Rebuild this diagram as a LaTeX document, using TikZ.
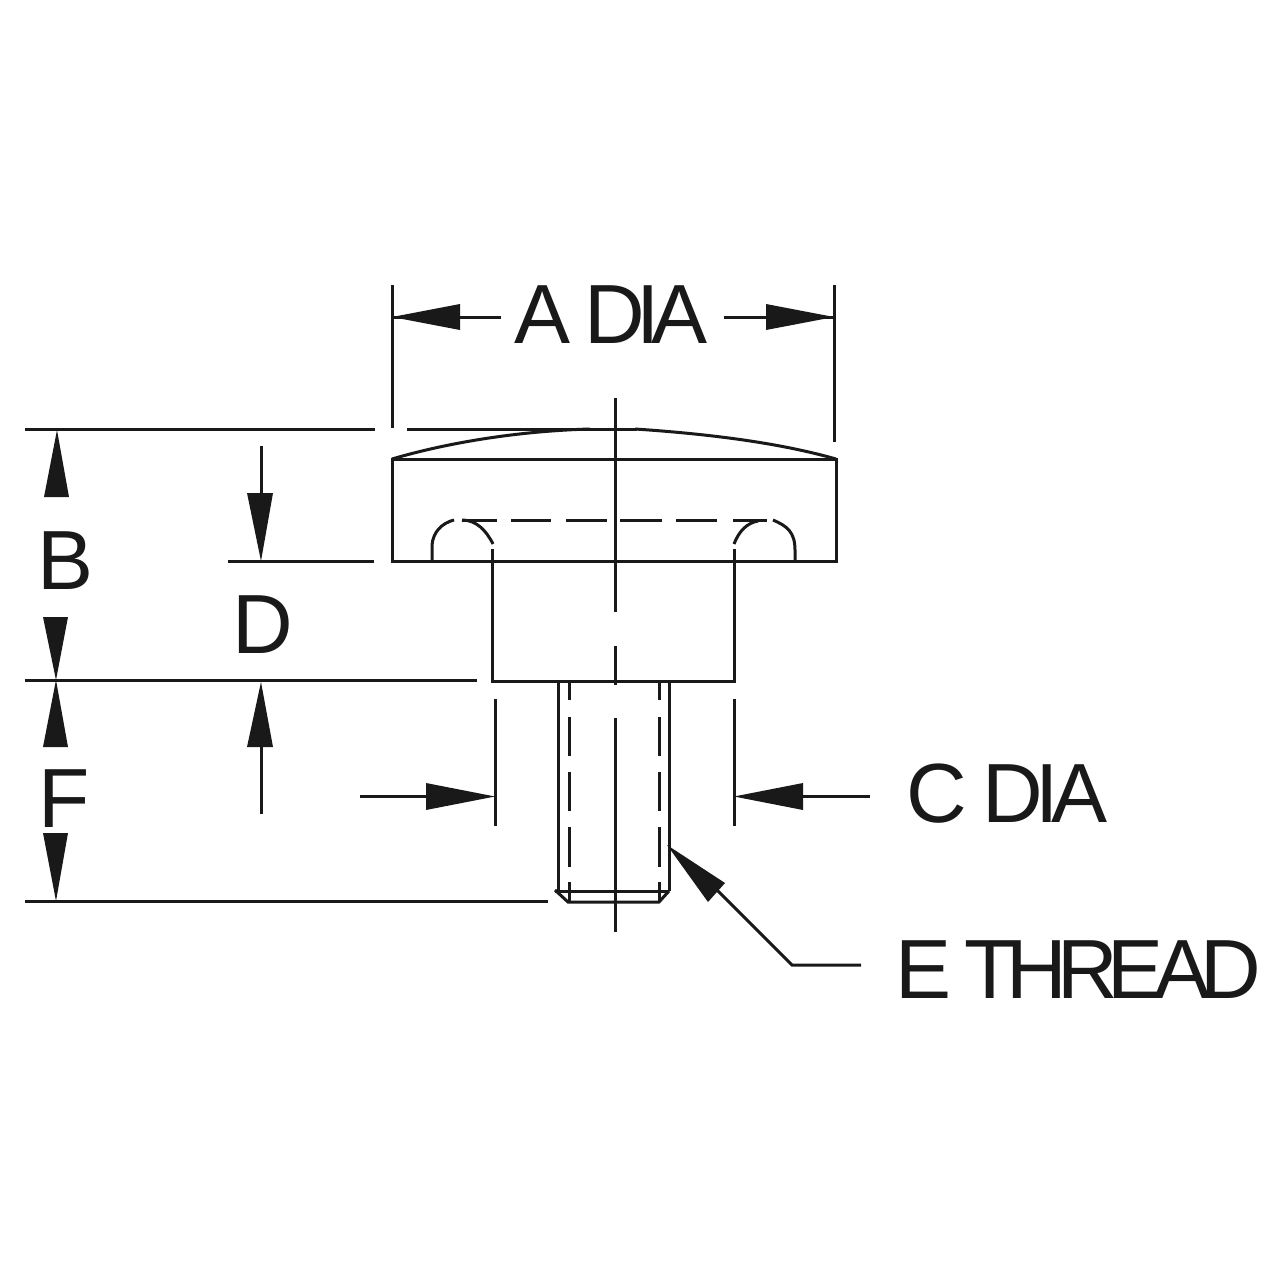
\documentclass[tikz,border=0pt]{standalone}
\usepackage{fontspec}
\setmainfont{Liberation Sans}
\newfontfamily\fa{Liberation Sans}[LetterSpace=-10.3]
\newfontfamily\fc{Liberation Sans}[LetterSpace=-9]
\newfontfamily\fe{Liberation Sans}[LetterSpace=-11.7]
\begin{document}
\begin{tikzpicture}[x=1pt,y=-1pt,
  ln/.style={line width=3pt,black!90!white},
  dim/.style={line width=3pt,black!90!white},
  tip/.style={fill=black!90!white,draw=none},
  olab/.style={inner sep=0pt,anchor=base west,font=\fontsize{84}{84}\selectfont,text=black!90!white}]
\useasboundingbox (0,0) rectangle (1280,1280);
\fill[white] (0,0) rectangle (1280,1280);
% knob
\draw[ln] (392,459) rectangle (836,561);
\draw[ln] (392,459) .. controls (450,442) and (520,431) .. (590,429);
\draw[ln] (635,429) .. controls (710,434) and (780,443) .. (836,459);
\draw[ln] (407,429) -- (637,429);
% neck
\draw[ln] (492,549) -- (492,681) -- (734,681) -- (734,549);
% hidden recess
\draw[ln] (432,561) -- (432,545) .. controls (433,532) and (442,523) .. (454,520);
\draw[ln] (462,520) .. controls (476,520) and (486,530) .. (493,544);
\draw[ln] (734,544) .. controls (739,531) and (747,523) .. (758,521);
\draw[ln] (773,520) .. controls (787,526) and (795,532) .. (795,550) -- (795,561);
\draw[ln] (462,520) -- (497,520) (511,520) -- (551,520) (566,520) -- (607,520) (620,520) -- (662,520) (676,520) -- (717,520) (733,520) -- (767,520);
% centre line
\draw[dim] (615,398) -- (615,612) (615,646) -- (615,685) (615,718) -- (615,932);
% stud
\draw[ln] (558,681) -- (558,891);
\draw[ln] (669,681) -- (669,891);
\draw[ln] (555,891) -- (669,891);
\draw[ln] (555,890) -- (568,902) -- (659,902) -- (669,891);
\draw[ln] (569,682) -- (569,700) (569,717) -- (569,756) (569,772) -- (569,811) (569,827) -- (569,867) (569,882) -- (569,902);
\draw[ln] (659,682) -- (659,700) (659,717) -- (659,756) (659,772) -- (659,811) (659,827) -- (659,867) (659,882) -- (659,902);
% dimension A
\draw[dim] (392,285) -- (392,428);
\draw[dim] (834,285) -- (834,442);
\draw[dim] (392,317) -- (501,317);
\draw[dim] (834,317) -- (724,317);
\fill[tip] (392,317) -- (460,304) -- (460,330) -- cycle;
\fill[tip] (834,317) -- (766,304) -- (766,330) -- cycle;
% left extension lines
\draw[dim] (25,429) -- (375,429);
\draw[dim] (228,561.5) -- (374,561.5);
\draw[dim] (25,680) -- (477,680);
\draw[dim] (25,901.5) -- (548,901.5);
% B and F arrows
\fill[tip] (57,430) -- (44,497) -- (69,497) -- cycle;
\fill[tip] (56,680) -- (43,617) -- (68,617) -- cycle;
\fill[tip] (56,680) -- (43,747) -- (68,747) -- cycle;
\fill[tip] (56,901) -- (43,833) -- (68,833) -- cycle;
% D arrows
\draw[dim] (261,446) -- (261,500);
\fill[tip] (261,561) -- (247,493) -- (273,493) -- cycle;
\draw[dim] (261,745) -- (261,814);
\fill[tip] (261,682) -- (247,747) -- (273,747) -- cycle;
% C arrows
\draw[dim] (495,699) -- (495,826);
\draw[dim] (734,699) -- (734,826);
\draw[dim] (360,796.5) -- (430,796.5);
\draw[dim] (800,796.5) -- (870,796.5);
\fill[tip] (495,796.5) -- (426,783) -- (426,810) -- cycle;
\fill[tip] (734,796.5) -- (803,783) -- (803,810) -- cycle;
% E leader
\draw[dim] (715,888) -- (792,965) -- (861,965);
\fill[tip] (667,845) -- (725,883) -- (708,902) -- cycle;
% labels
\node[olab] (la) at (514,343) {\fa A DIA};
\node[olab] (lb) at (37,589) {B};
\node[olab] (ld) at (232,653) {D};
\node[olab] (lf) at (38,827) {F};
\node[olab] (lc) at (906,822) {\fc C DIA};
\node[olab] (le) at (895,998) {\fe E THREAD};
\end{tikzpicture}
\end{document}
